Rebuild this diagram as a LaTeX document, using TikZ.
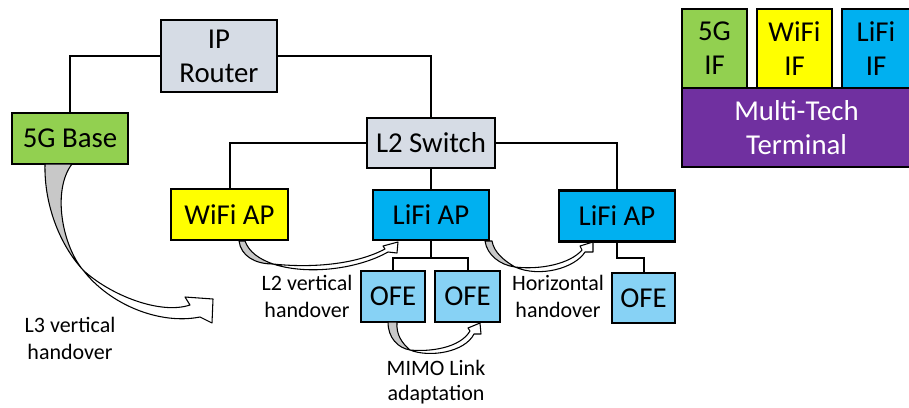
\documentclass[tikz,border=0pt]{standalone}
\usepackage{fontspec}
\setmainfont{Carlito}
\usetikzlibrary{backgrounds}
\definecolor{gfive}{RGB}{146,208,80}
\definecolor{ywifi}{RGB}{255,255,0}
\definecolor{blifi}{RGB}{0,176,240}
\definecolor{grouter}{RGB}{214,220,229}
\definecolor{pterm}{RGB}{112,48,160}
\definecolor{bofe}{RGB}{135,210,245}
\definecolor{garrow}{RGB}{200,200,200}
\tikzset{
  box/.style 2 args={draw, line width=1.6pt, inner sep=0pt, align=center,
    minimum width=#1*0.75pt, minimum height=#2*0.75pt,
    font=\fontsize{21.6}{25.5}\selectfont},
  conn/.style={draw, line width=1.5pt},
  lbl/.style={align=center, font=\fontsize{16.5}{20.3}\selectfont},
  arrgray/.style={fill=garrow, draw, line width=0.8pt, line join=round},
  arrwhite/.style={fill=white, draw, line width=0.8pt, line join=round},
}
\begin{document}
\begin{tikzpicture}[x=0.75pt,y=-0.75pt]
\clip (0,0) rectangle (909,407);
% nodes
\node[box={116}{72}, fill=grouter] (router) at (219,56) {IP\\Router};
\node[box={116}{51}, fill=gfive] (fiveg) at (70,138.5) {5G Base};
\node[box={128}{50}, fill=grouter] (l2) at (431,143) {L2 Switch};
\node[box={117}{51}, fill=ywifi] (wifi) at (229.5,214.5) {WiFi AP};
\node[box={116}{50}, fill=blifi] (lifi1) at (431,215) {LiFi AP};
\node[box={116}{51}, fill=blifi] (lifi2) at (617,216) {LiFi AP};
\node[box={64}{51}, fill=bofe] (ofe1) at (393,296.5) {OFE};
\node[box={65}{51}, fill=bofe] (ofe2) at (467.5,296.5) {OFE};
\node[box={63}{50}, fill=bofe] (ofe3) at (643.5,298) {OFE};
% terminal
\node[box={229}{79}, fill=pterm, text=white] (term) at (796.5,127.5) {Multi-Tech\\Terminal};
\node[box={65}{79}, fill=gfive] (if5g) at (714.5,48.5) {5G\\IF};
\node[box={75}{79}, fill=ywifi] (ifwifi) at (794.5,48.5) {WiFi\\IF};
\node[box={68}{79}, fill=blifi] (iflifi) at (876,48.5) {LiFi\\IF};
% connectors
\begin{scope}[on background layer]
\draw[conn] (router.west) -| (fiveg.north);
\draw[conn] (router.east) -| (l2.north);
\draw[conn] (l2.west) -| (wifi.north);
\draw[conn] (l2.east) -| (lifi2.north);
\draw[conn] (l2.south) -- (lifi1.north);
\coordinate (j1) at (431,258);
\draw[conn] (lifi1.south) -- (j1);
\draw[conn] (ofe1.north) |- (j1) -| (ofe2.north);
\coordinate (j2) at (617,258);
\draw[conn] (lifi2.south) -- (j2) -| (ofe3.north);
\end{scope}
% L3 vertical handover arrow
\draw[arrgray] (45,164) .. controls (44,205) and (60,245) .. (83,270)
  .. controls (62,245) and (52,190) .. (72,164) -- cycle;
\draw[arrwhite] (83,270) .. controls (110,305) and (160,325) .. (200,317)
  -- (212,323) -- (213,299) -- (185,297) -- (190,305)
  .. controls (160,315) and (110,295) .. (83,270) -- cycle;
% L2 vertical handover arrow
\draw[arrgray] (239,241) .. controls (241,256) and (255,264) .. (273,264)
  .. controls (259,259) and (249,252) .. (245,241) -- cycle;
\draw[arrwhite] (273,264) .. controls (310,276) and (360,268) .. (388,252)
  -- (397,253) -- (398,242) -- (383,246) -- (385,249)
  .. controls (355,265) and (310,268) .. (273,264) -- cycle;
% Horizontal handover arrow
\draw[arrgray] (485,241) .. controls (487,255) and (500,265) .. (515,267)
  .. controls (503,260) and (494,252) .. (492,241) -- cycle;
\draw[arrwhite] (515,267) .. controls (540,278) and (575,268) .. (585,252)
  -- (593,252) -- (593,242) -- (580,246) -- (582,250)
  .. controls (570,264) and (540,270) .. (515,267) -- cycle;
% MIMO arrow
\draw[arrgray] (388,322) .. controls (388,338) and (398,348) .. (410,350)
  .. controls (402,343) and (396,335) .. (397,322) -- cycle;
\draw[arrwhite] (410,350) .. controls (430,358) and (465,352) .. (474,334)
  -- (481,334) -- (480,323) -- (468,328) -- (470,331)
  .. controls (460,348) and (430,352) .. (410,350) -- cycle;
% labels
\node[lbl] (l3lbl) at (70,338) {L3 vertical\\handover};
\node[lbl] (l2lbl) at (307,296) {L2 vertical\\handover};
\node[lbl] (hlbl) at (558,296) {Horizontal\\handover};
\node[lbl, font=\fontsize{16.5}{19}\selectfont] (mlbl) at (436,382) {MIMO Link\\adaptation};
\end{tikzpicture}
\end{document}
